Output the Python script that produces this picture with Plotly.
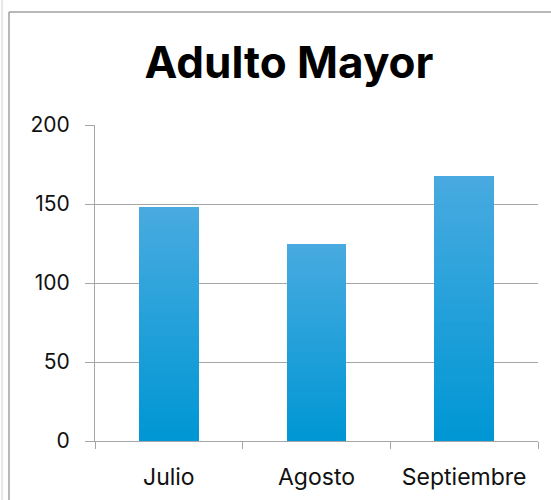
import plotly.graph_objects as go

categories = ["Julio", "Agosto", "Septiembre"]
values = [148, 125, 168]
y_ticks = [0, 50, 100, 150, 200]
title_text = "Adulto Mayor"

# gradient colours (bottom -> top)
col_bottom = (0x00, 0x97, 0xd4)
col_top = (0x48, 0xaa, 0xe0)
N_SEG = 40

W, H = 551, 500
ML, MR, MT, MB = 95, 13, 125, 59
PW = W - ML - MR
PH = H - MT - MB


def px_x(px):
    return (px - ML) / PW


def px_y(py):
    return (H - MB - py) / PH


fig = go.Figure()
for i in range(N_SEG):
    t = i / (N_SEG - 1)
    c = tuple(round(col_bottom[k] + (col_top[k] - col_bottom[k]) * t) for k in range(3))
    fig.add_bar(
        x=categories,
        y=[v / N_SEG for v in values],
        marker=dict(color="rgb(%d,%d,%d)" % c, line=dict(width=0)),
        showlegend=False,
        hoverinfo="skip",
    )

fig.update_layout(
    width=W,
    height=H,
    margin=dict(l=ML, r=MR, t=MT, b=MB, autoexpand=False),
    barmode="stack",
    bargap=0.594,
    plot_bgcolor="white",
    paper_bgcolor="white",
    title=dict(
        text="<b>" + title_text + "</b>",
        x=289 / W,
        xanchor="center",
        y=1 - 63 / H,
        yanchor="middle",
        font=dict(family="Inter", size=44, color="black"),
    ),
    font=dict(family="Inter", size=21, color="#111111"),
)

fig.update_yaxes(
    range=[0, 200],
    tickvals=y_ticks,
    showgrid=True,
    gridcolor="#a6a6a6",
    gridwidth=1,
    showline=True,
    linecolor="#a6a6a6",
    linewidth=1,
    ticks="outside",
    ticklen=9,
    tickcolor="#a6a6a6",
    ticklabelstandoff=11,
    tickfont=dict(size=21),
    zeroline=False,
    automargin=False,
)
fig.update_xaxes(
    showline=True,
    linecolor="#a6a6a6",
    linewidth=1,
    ticks="outside",
    tickson="boundaries",
    ticklen=7,
    tickcolor="#a6a6a6",
    showgrid=False,
    ticklabelstandoff=15,
    tickfont=dict(size=23),
    automargin=False,
)

# chart frame
fig.add_shape(type="line", xref="paper", yref="paper",
              x0=px_x(9), x1=px_x(9), y0=px_y(12), y1=px_y(520),
              line=dict(color="#a0a0a0", width=1.5))
fig.add_shape(type="line", xref="paper", yref="paper",
              x0=px_x(9), x1=px_x(560), y0=px_y(12), y1=px_y(12),
              line=dict(color="#a0a0a0", width=1.5))
fig.add_shape(type="line", xref="paper", yref="paper",
              x0=px_x(2), x1=px_x(2), y0=px_y(-10), y1=px_y(520),
              line=dict(color="#d0d0d0", width=1))

fig.write_html(
    "out.html",
    config={"displayModeBar": False},
    post_script="document.body.style.margin='0px';document.body.style.overflow='hidden';",
)
